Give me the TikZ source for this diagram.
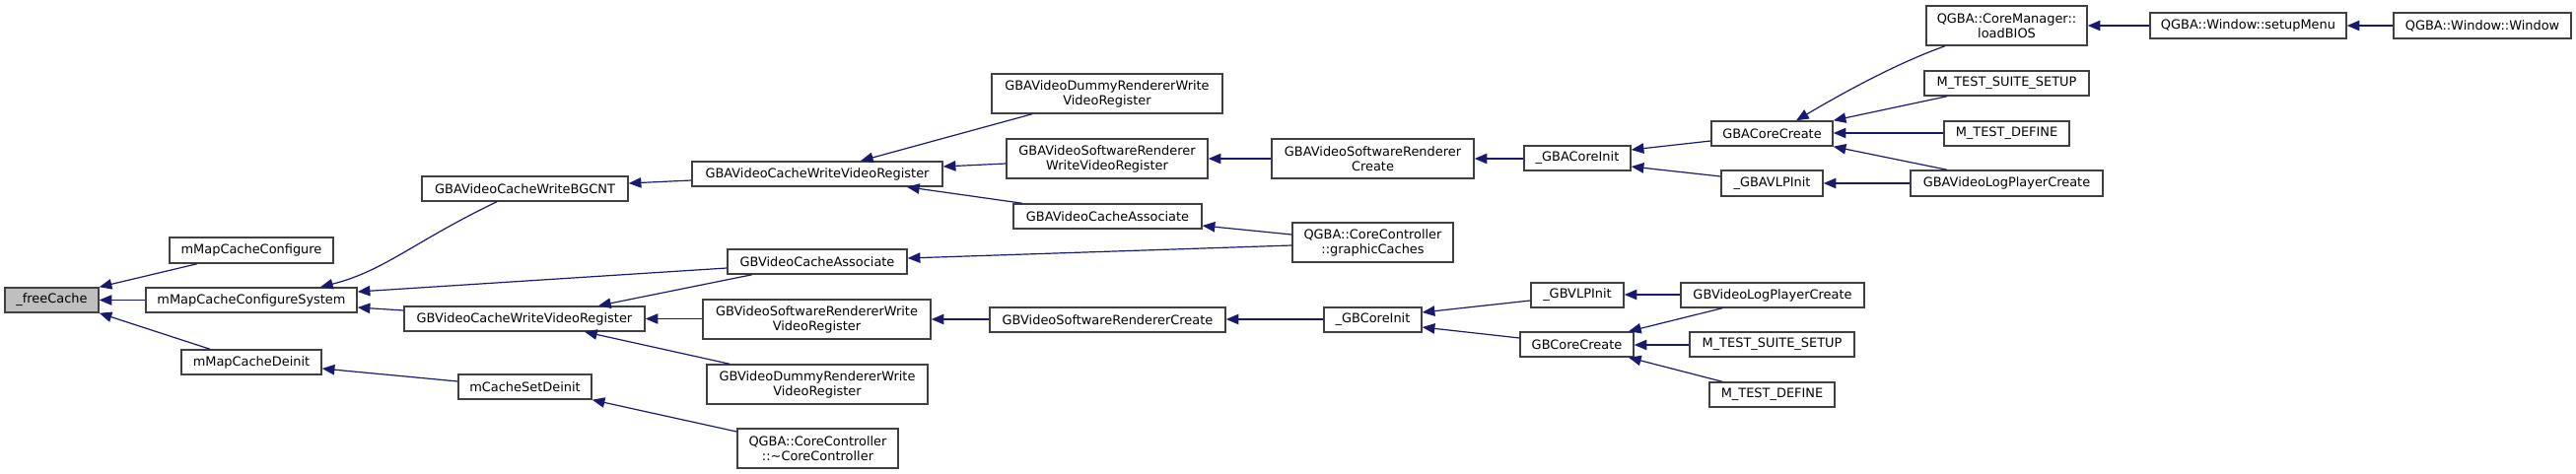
\documentclass[tikz,border=0pt]{standalone}
\usepackage{fontspec}
\setmainfont{DejaVu Sans}
\usetikzlibrary{arrows.meta}
\definecolor{edgeblue}{HTML}{191970}
\definecolor{boxline}{HTML}{404040}
\tikzset{
  box/.style={draw=boxline, line width=1.1pt, fill=white, inner sep=0pt, align=center,
    font=\fontsize{9.7}{11.25}\selectfont},
  e/.style={draw=edgeblue, line width=0.9pt, -{Triangle[length=9.5pt,width=7.8pt,fill=edgeblue]}},
}
\newcommand\bx[7][]{\node[box,#1,minimum width={(#5-#3)*0.75pt},minimum height={(#6-#4)*0.75pt}] (#2) at ({(#3+#5)/2},{(#4+#6)/2}) {#7};}
\begin{document}
\begin{tikzpicture}[x=0.75pt,y=-0.75pt]
\useasboundingbox (0,0) rectangle (2613,481);
% nodes
\bx[fill=gray!50]{fc}{5}{292}{100}{317}{\_freeCache}
\bx{mmcc}{172}{241}{338}{267}{mMapCacheConfigure}
\bx{mmcs}{148}{292}{362}{317}{mMapCacheConfigureSystem}
\bx{mmcd}{184}{355}{326}{380}{mMapCacheDeinit}
\bx{bgcnt}{428}{179}{637}{204}{GBAVideoCacheWriteBGCNT}
\bx{gbavcwvr}{702}{164}{956}{189}{GBAVideoCacheWriteVideoRegister}
\bx{gbvca}{738}{253}{920}{278}{GBVideoCacheAssociate}
\bx{gbvcwvr}{410}{311}{654}{336}{GBVideoCacheWriteVideoRegister}
\bx{mcsd}{465}{380}{600}{405}{mCacheSetDeinit}
\bx{gbvswr}{713}{304}{944}{344}{GBVideoSoftwareRendererWrite\\VideoRegister}
\bx{gbvdum}{717}{370}{941}{410}{GBVideoDummyRendererWrite\\VideoRegister}
\bx{ccd}{748}{435}{911}{475}{QGBA::CoreController\\::\textasciitilde CoreController}
\bx{gbadum}{1006}{75}{1240}{115}{GBAVideoDummyRendererWrite\\VideoRegister}
\bx{gbaswr}{1021}{141}{1225}{181}{GBAVideoSoftwareRenderer\\WriteVideoRegister}
\bx{gbavca}{1028}{207}{1219}{232}{GBAVideoCacheAssociate}
\bx{gbvswrc}{1004}{312}{1243}{337}{GBVideoSoftwareRendererCreate}
\bx{gbaswrc}{1290}{141}{1495}{181}{GBAVideoSoftwareRenderer\\Create}
\bx{gbaci}{1546}{148}{1654}{173}{\_GBACoreInit}
\bx{gcache}{1311}{226}{1474}{266}{QGBA::CoreController\\::graphicCaches}
\bx{gbci}{1343}{312}{1442}{337}{\_GBCoreInit}
\bx{gbvlp}{1553}{287}{1647}{312}{\_GBVLPInit}
\bx{gbcc}{1542}{337}{1657}{362}{GBCoreCreate}
\bx{lbios}{1954}{6}{2117}{46}{QGBA::CoreManager::\\loadBIOS}
\bx{mtss1}{1952}{72}{2119}{97}{M\_TEST\_SUITE\_SETUP}
\bx{gbacc}{1736}{123}{1859}{148}{GBACoreCreate}
\bx{mtd1}{1972}{123}{2099}{148}{M\_TEST\_DEFINE}
\bx{gbavlp}{1746}{173}{1849}{199}{\_GBAVLPInit}
\bx{gbavlpc}{1938}{173}{2133}{199}{GBAVideoLogPlayerCreate}
\bx{gbvlpc}{1705}{287}{1891}{312}{GBVideoLogPlayerCreate}
\bx{mtss2}{1714}{337}{1881}{362}{M\_TEST\_SUITE\_SETUP}
\bx{mtd2}{1734}{388}{1861}{413}{M\_TEST\_DEFINE}
\bx{smenu}{2181}{13}{2380}{39}{QGBA::Window::setupMenu}
\bx{win}{2428}{13}{2608}{39}{QGBA::Window::Window}
% edges
\draw[e] (mmcc.south -| 200,0) -- (fc.north east);
\draw[e] (mmcs.west) -- (fc.east);
\draw[e] (mmcd.north -| 213,0) -- (fc.south east);
\draw[e] (bgcnt.south -| 504,0) .. controls (420,245) and (390,275) .. (mmcs.north -| 325,0);
\draw[e] (gbvca.west |- 0,272) -- (mmcs.east |- 0,296);
\draw[e] (gbvcwvr.west |- 0,315) -- (mmcs.east |- 0,312);
\draw[e] (mcsd.west |- 0,387) -- (mmcd.east |- 0,374);
\draw[e] (gbavcwvr.west |- 0,183) -- (bgcnt.east |- 0,186);
\draw[e] (gbadum.south -| 1047,0) -- (gbavcwvr.north -| 873,0);
\draw[e] (gbaswr.west |- 0,166) -- (gbavcwvr.east |- 0,169);
\draw[e] (gbavca.north -| 1037,0) -- (gbavcwvr.south -| 920,0);
\draw[e] (gbvca.south -| 763,0) -- (gbvcwvr.north -| 607,0);
\draw[e] (gbvswr.west |- gbvcwvr.east) -- (gbvcwvr.east);
\draw[e] (gbvdum.north -| 740,0) -- (gbvcwvr.south -| 593,0);
\draw[e] (ccd.west |- 0,438) -- (mcsd.south east);
\draw[e] (gbaswrc.west |- 0,161) -- (gbaswr.east |- 0,161);
\draw[e] (gcache.west |- 0,238) -- (gbavca.east |- 0,229);
\draw[e] (gcache.west |- 0,249) -- (gbvca.east |- 0,262);
\draw[e] (gbvswrc.west |- 0,324) -- (gbvswr.east |- 0,324);
\draw[e] (gbaci.west |- 0,161) -- (gbaswrc.east |- 0,161);
\draw[e] (gbci.west |- 0,324) -- (gbvswrc.east |- 0,324);
\draw[e] (gbacc.west |- 0,143) -- (gbaci.east |- 0,152);
\draw[e] (gbavlp.west |- 0,179) -- (gbaci.east |- 0,169);
\draw[e] (gbvlp.west |- 0,305) -- (gbci.east |- 0,317);
\draw[e] (gbcc.west |- 0,343) -- (gbci.east |- 0,332);
\draw[e] (lbios.south -| 1973,0) .. controls (1930,62) and (1880,88) .. (gbacc.north -| 1822,0);
\draw[e] (mtss1.south -| 1975,0) -- (gbacc.north east);
\draw[e] (mtd1.west |- 0,135) -- (gbacc.east |- 0,135);
\draw[e] (gbavlpc.north -| 1975,0) -- (gbacc.south east);
\draw[e] (gbavlpc.west |- 0,186) -- (gbavlp.east |- 0,186);
\draw[e] (gbvlpc.west |- 0,299) -- (gbvlp.east |- 0,299);
\draw[e] (gbvlpc.south -| 1747,0) -- (gbcc.north -| 1652,0);
\draw[e] (mtss2.west |- 0,350) -- (gbcc.east |- 0,350);
\draw[e] (mtd2.north -| 1747,0) -- (gbcc.south -| 1652,0);
\draw[e] (smenu.west |- 0,26) -- (lbios.east |- 0,26);
\draw[e] (win.west) -- (smenu.east);
\end{tikzpicture}
\end{document}
